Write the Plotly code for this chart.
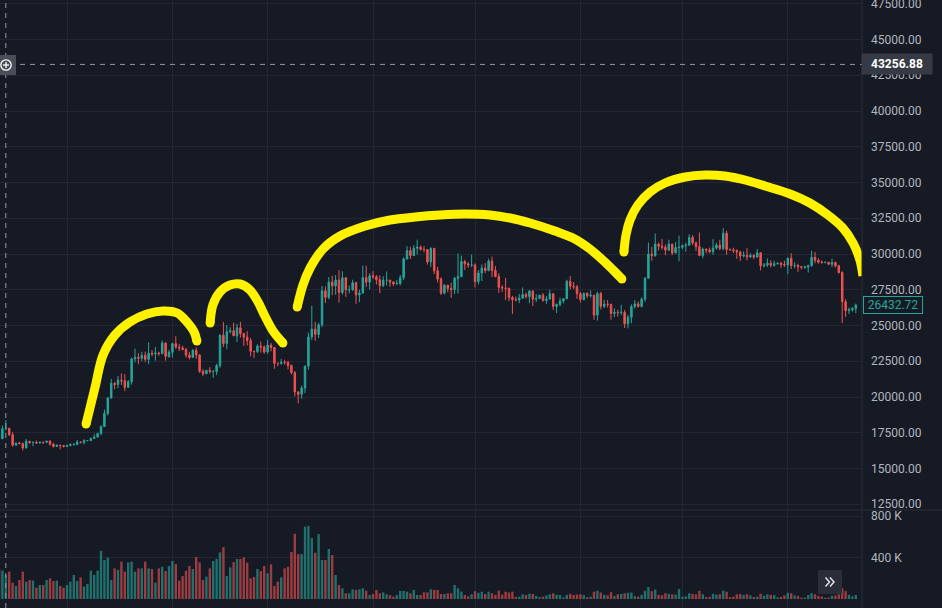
import pandas as pd
import plotly.graph_objects as go

# ---------------- data (daily candles, 2022-12-12 .. 2023-08-21) ----------------
start_date = "2022-12-12"
first_open = 17127

close = [
    # Dec 2022
    17085, 17780, 17812, 17364, 16634, 16779, 16739, 16439, 16907, 16820,
    16830, 16779, 16837, 16830, 16919, 16706, 16547, 16633, 16607, 16542,
    # Jan 2023
    16616, 16672, 16675, 16850, 16831, 16951, 16955, 17091, 17197, 17446,
    17935, 18846, 19930, 20954, 20872, 21185, 21133, 20677, 21072, 22667,
    22783, 22707, 22917, 22633, 23061, 23010, 23075, 23031, 23775, 22841, 23126,
    # Feb
    23732, 23488, 23431, 23326, 22933, 22763, 23264, 22940, 21797, 21625,
    21862, 21784, 21786, 22197, 24325, 23741, 24566, 24630, 24280, 24838,
    24439, 24189, 23947, 23198, 23175, 23555, 23492, 23141,
    # Mar
    23629, 23465, 22354, 22346, 22430, 22410, 22197, 21705, 20363, 20187,
    20633, 22163, 24197, 24746, 24375, 25055, 27423, 26965, 28039, 27768,
    28176, 27307, 28334, 27493, 27494, 27994, 27140, 27269, 28348, 28033, 28478,
    # Apr
    28411, 28199, 27790, 28169, 28173, 28036, 27906, 27948, 28333, 29653,
    30235, 29892, 30399, 30485, 30318, 30315, 29445, 30397, 28823, 28245,
    27263, 27817, 27591, 27514, 28300, 28415, 29472, 29311, 29231, 29233,
    # May
    28068, 28669, 29026, 28838, 29505, 28848, 28430, 27668, 27628, 27598,
    26963, 26805, 26785, 26918, 27162, 27030, 27405, 26833, 26890, 27118,
    26753, 26851, 27225, 26334, 26476, 26720, 26868, 28085, 27745, 27702, 27219,
    # Jun
    26819, 27249, 27069, 27116, 25729, 27230, 26339, 26498, 26477, 25841,
    25925, 25902, 25922, 25125, 25576, 26327, 26511, 26336, 26841, 28308,
    29993, 29884, 30689, 30547, 30470, 30271, 30696, 30078, 30446, 30472,
    # Jul
    30585, 30617, 31156, 30767, 30504, 29895, 30344, 30284, 30160, 30411,
    30619, 30380, 31454, 30312, 30290, 30232, 30139, 29859, 29910, 29800,
    29900, 29793, 30083, 29177, 29227, 29354, 29211, 29314, 29353, 29279, 29233,
    # Aug
    29705, 29186, 29194, 29113, 29072, 29090, 29188, 29766, 29561, 29430,
    29397, 29416, 29283, 29408, 29170, 28701, 26664, 26049, 26096, 26189, 26432.72,
]

high = [
    17242, 18000, 18387, 17846, 17531, 16800, 16864, 16816, 17061, 16925,
    16868, 16959, 16869, 16860, 16939, 16972, 16785, 16664, 16644, 16649,
    16631, 16760, 16773, 16990, 16879, 17042, 16971, 17176, 17398, 17490,
    18000, 19118, 19993, 21258, 21050, 21474, 21650, 21600, 21188, 22755,
    23371, 23078, 23165, 23180, 23816, 23282, 23500, 23165, 23950, 23817, 23305,
    23812, 24255, 23715, 23585, 23433, 23158, 23350, 23452, 22990, 21940,
    21906, 22090, 21885, 22326, 24380, 25250, 25021, 24877, 25190, 25121,
    25250, 24476, 24600, 24132, 23219, 23689, 23880, 23600,
    24000, 23775, 23476, 22410, 22667, 22603, 22527, 22268, 21815, 20364,
    20792, 22185, 24500, 26386, 25250, 25196, 27757, 27725, 28390, 28474,
    28528, 28868, 28800, 28400, 27800, 28200, 28050, 27500, 29185, 29168, 28650,
    28803, 28530, 28500, 28445, 28775, 28190, 28100, 28176, 28532, 29770,
    30550, 30500, 30620, 31000, 30600, 30550, 30320, 30470, 30420, 29100,
    28374, 27880, 27820, 28000, 28400, 30036, 29890, 29599, 29450, 29960,
    29337, 28880, 29266, 29366, 29677, 29820, 29150, 28650, 27820, 28319,
    27647, 27070, 27033, 27200, 27662, 27296, 27485, 27465, 27183, 27150,
    27268, 27050, 27500, 27225, 26530, 26938, 26888, 28200, 28447, 28040, 27831,
    27350, 27300, 27317, 27455, 27130, 27360, 27355, 26800, 26779, 26530,
    26200, 26105, 26440, 26080, 25750, 26475, 26775, 26679, 26980, 28390,
    30800, 30500, 31430, 30800, 31050, 30660, 31000, 30700, 30840, 31280,
    30660, 30790, 31380, 31326, 30880, 31500, 30447, 30380, 30445, 31045,
    30800, 30993, 31800, 31630, 30390, 30440, 30330, 30230, 30180, 30410,
    30050, 29990, 30350, 30100, 29370, 29690, 29560, 29530, 29413, 29450, 29530,
    29745, 30050, 29415, 29320, 29150, 29180, 29250, 30225, 30140, 29700,
    29550, 29475, 29450, 29675, 29460, 29250, 28785, 26835, 26260, 26290, 26530,
]

low = [
    16868, 17080, 17660, 17275, 16527, 16585, 16697, 16256, 16398, 16723,
    16560, 16742, 16760, 16715, 16788, 16592, 16465, 16508, 16333, 16470,
    16499, 16548, 16605, 16652, 16753, 16674, 16908, 16911, 17090, 17161,
    17320, 17908, 18714, 19889, 20552, 20611, 20838, 20407, 20654, 20862,
    22422, 22292, 22500, 22462, 22300, 22850, 22543, 22880, 23000, 22546, 22726,
    22760, 23364, 23204, 23256, 22745, 22628, 22746, 22665, 21688, 21451,
    21599, 21630, 21351, 21532, 22047, 23505, 23339, 24450, 24254, 23840,
    24150, 23574, 23608, 22841, 22722, 23077, 23106, 23020,
    23020, 23195, 21971, 22157, 22252, 22265, 21927, 21580, 20042, 19549,
    19885, 20271, 21918, 23976, 23930, 24123, 24890, 26578, 26830, 27125,
    27156, 26600, 27155, 27000, 27250, 27420, 26509, 26635, 27235, 27700, 27531,
    28250, 27866, 27260, 27675, 27800, 27700, 27767, 27865, 27800, 28170,
    29610, 29650, 29860, 29966, 30240, 30120, 29262, 29100, 28590, 28010,
    27125, 27160, 27327, 26940, 27206, 27235, 28380, 28876, 29031, 29080,
    27660, 27873, 28111, 28671, 28800, 28385, 28368, 27279, 27353, 26777,
    26695, 25810, 26687, 26566, 26850, 26880, 26560, 26360, 26633, 26850,
    26667, 26519, 26818, 26090, 25872, 26340, 26555, 26864, 27523, 27555, 26860,
    26605, 26740, 26920, 26952, 25388, 25350, 26125, 26215, 26255, 25400,
    25582, 25620, 25730, 24823, 24800, 25160, 26185, 26255, 26260, 26660,
    28260, 29525, 29810, 30251, 30300, 29920, 30220, 29920, 30041, 29500,
    30320, 30160, 30560, 30623, 30205, 29850, 29700, 30050, 30050, 29950,
    30300, 30255, 30250, 29940, 30250, 30070, 29660, 29520, 29760, 29560,
    29720, 29645, 29740, 28860, 29060, 29090, 29070, 29100, 29263, 29030, 29100,
    28580, 28950, 29000, 28750, 28920, 28960, 28700, 29105, 29350, 29330,
    29340, 29360, 29250, 29080, 29060, 28630, 25166, 25600, 25800, 25970, 25860,
]

# volume in thousands
volume_k = [
    289, 273, 231, 263, 157, 125, 183, 263, 167, 183, 177, 109, 135, 135, 183, 199,
    173, 177, 125, 109, 135, 167, 231, 173, 209, 119, 144, 273, 231, 273, 465, 376,
    398, 183, 295, 279, 360, 263, 353, 360, 263, 295, 295, 360, 295, 289, 157, 295,
    311, 270, 318, 366, 337, 177, 221, 273, 318, 289, 404, 353, 183, 215, 295, 366,
    385, 449, 501, 221, 305, 356, 385, 385, 401, 350, 199, 212, 289, 270, 318, 247,
    334, 125, 167, 209, 295, 311, 453, 629, 433, 433, 697, 703, 587, 446, 626, 376,
    376, 482, 424, 231, 135, 103, 55, 55, 93, 87, 93, 103, 80, 39, 48, 87,
    55, 64, 45, 39, 22, 39, 77, 77, 71, 55, 87, 39, 39, 64, 64, 93,
    87, 87, 48, 48, 55, 55, 135, 103, 71, 39,
    25, 45, 75, 60, 70, 48, 70, 55, 40, 80, 42, 70, 62, 70, 20, 22,
    45, 38, 50, 48, 30, 18, 22, 35, 45, 55, 40, 38, 15, 40, 50, 38,
    42, 45, 38, 18, 22, 70, 80, 62, 40, 35, 65, 28, 45, 48, 55, 60,
    62, 28, 22, 40, 80, 115, 75, 92, 40, 35, 55, 50, 45, 42, 95, 22,
    25, 55, 48, 45, 78, 45, 18, 20, 50, 42, 45, 80, 70, 18, 22, 45,
    48, 38, 45, 35, 18, 22, 50, 32, 45, 40, 38, 15, 20, 35, 60, 55,
    35, 30, 12, 14, 38, 55, 45, 30, 25, 12, 15, 32, 35, 45, 105, 75,
    40, 25, 38,
]

price_ticks = [12500, 15000, 17500, 20000, 22500, 25000, 27500, 30000,
               32500, 35000, 37500, 40000, 42500, 45000, 47500]
volume_ticks_k = [400, 800]
month_starts = ["2023-01-01", "2023-02-01", "2023-03-01", "2023-04-01",
                "2023-05-01", "2023-06-01", "2023-07-01", "2023-08-01"]

crosshair_price = 43256.88
crosshair_day = "2022-12-14"
last_price = 26432.72

# hand drawn yellow arcs: (day offset from start_date, price)
arc1_days = [25.6, 28.2, 30.6, 34.1, 38.5, 43.5, 48.2, 52.4, 55.3, 57.4, 58.2]
arc1_price = [18112, 20629, 22937, 24336, 25245, 25804, 26014, 25874, 25245, 24545, 23916]
arc2_days = [62.1, 62.9, 65.0, 67.9, 70.9, 73.8, 76.2, 78.2, 80.6, 83.5]
arc2_price = [25175, 26434, 27343, 27832, 27902, 27483, 26643, 25664, 24615, 23776]
arc3_days = [87.7, 89.4, 91.5, 95.3, 100.3, 107.7, 115.0, 122.4, 129.7, 137.1,
             144.4, 150.3, 156.2, 163.5, 168.8, 173.8, 178.2, 181.2, 183.2]
arc3_price = [26294, 27832, 29021, 30350, 31259, 31958, 32378, 32587, 32727, 32797,
              32727, 32517, 32168, 31608, 31119, 30350, 29441, 28741, 28252]
arc4_days = [183.8, 184.4, 185.6, 187.9, 191.5, 195.9, 201.8, 207.7, 213.5, 219.4,
             225.3, 232.7, 238.5, 243.8, 248.2, 251.2, 253.2, 254.1]
arc4_price = [30140, 31329, 32378, 33427, 34336, 34965, 35385, 35524, 35455, 35175,
              34755, 34196, 33566, 32727, 31818, 30769, 29580, 28462]

# ---------------- build ----------------
assert len(close) == len(high) == len(low) == len(volume_k), (len(close), len(high), len(low), len(volume_k))

start = pd.Timestamp(start_date)
dates = pd.date_range(start, periods=len(close), freq="D")
opens = [first_open] + close[:-1]

UP = "#26a69a"
DOWN = "#ef5350"
BG = "#161a25"
GRID = "#232733"
TXT = "#b2b5be"
W, H = 942, 608
PLOT_R = 862


def px(x):
    return x / W


def py(y):
    return 1 - y / H


vol_colors = ["rgba(38,166,154,0.62)" if c >= o else "rgba(239,83,80,0.62)"
              for o, c in zip(opens, close)]

fig = go.Figure()
fig.add_trace(go.Candlestick(
    x=dates, open=opens, high=high, low=low, close=close,
    increasing=dict(line=dict(color=UP, width=1), fillcolor=UP),
    decreasing=dict(line=dict(color=DOWN, width=1), fillcolor=DOWN),
    whiskerwidth=0, xaxis="x", yaxis="y", showlegend=False, hoverinfo="skip",
))
fig.add_trace(go.Bar(
    x=dates, y=volume_k, marker=dict(color=vol_colors, line=dict(width=0)),
    xaxis="x2", yaxis="y2", showlegend=False, hoverinfo="skip",
))

for d, p in [(arc1_days, arc1_price), (arc2_days, arc2_price),
             (arc3_days, arc3_price), (arc4_days, arc4_price)]:
    xs = [start + pd.Timedelta(days=v) for v in d]
    fig.add_trace(go.Scatter(
        x=xs, y=p, mode="lines", line=dict(color="#fff200", width=9, shape="spline", smoothing=1.0),
        xaxis="x", yaxis="y", showlegend=False, hoverinfo="skip",
    ))
    fig.add_trace(go.Scatter(
        x=[xs[0], xs[-1]], y=[p[0], p[-1]], mode="markers",
        marker=dict(color="#fff200", size=9, line=dict(width=0)),
        xaxis="x", yaxis="y", showlegend=False, hoverinfo="skip", cliponaxis=False,
    ))

x_range = [start + pd.Timedelta(days=0.29), start + pd.Timedelta(days=253.82)]
split = (H - 510) / H

xaxis_common = dict(
    type="date", range=x_range, domain=[0, PLOT_R / W],
    tickvals=month_starts, showticklabels=False, ticks="",
    showgrid=True, gridcolor=GRID, gridwidth=1, zeroline=False, showline=False,
    rangeslider=dict(visible=False), fixedrange=True, automargin=False,
)

fig.update_layout(
    width=W, height=H, margin=dict(l=0, r=0, t=0, b=0, pad=0, autoexpand=False),
    paper_bgcolor=BG, plot_bgcolor=BG,
    font=dict(family="Roboto, Noto Sans, sans-serif", color=TXT, size=12),
    boxgap=0.38, bargap=0.3,
    xaxis=dict(**xaxis_common, anchor="y"),
    xaxis2=dict(**xaxis_common, anchor="y2", matches="x"),
    yaxis=dict(
        domain=[split, 1], range=[12098, 47762], side="right", anchor="x",
        tickvals=price_ticks, ticktext=[f"{v:.2f}" for v in price_ticks],
        showgrid=True, gridcolor=GRID, zeroline=False, showline=False, automargin=False,
        ticks="", ticklabelstandoff=8, ticklabeloverflow="allow",
        tickfont=dict(size=12, color=TXT),
    ),
    yaxis2=dict(
        domain=[0, split], range=[-87, 858], side="right", anchor="x2",
        tickvals=volume_ticks_k, ticktext=[f"{v} K" for v in volume_ticks_k],
        showgrid=True, gridcolor=GRID, zeroline=False, showline=False, automargin=False,
        ticks="", ticklabelstandoff=8, ticklabeloverflow="allow",
        tickfont=dict(size=12, color=TXT),
    ),
)

shapes = [
    # pane separator
    dict(type="line", xref="paper", yref="paper", x0=0, x1=1, y0=py(510), y1=py(510),
         line=dict(color="#2a2e39", width=1)),
    # price-scale border
    dict(type="line", xref="paper", yref="paper", x0=px(PLOT_R), x1=px(PLOT_R), y0=0, y1=1,
         line=dict(color="#2a2e39", width=1)),
    # crosshair
    dict(type="line", xref="paper", yref="y", x0=0, x1=px(PLOT_R), y0=crosshair_price, y1=crosshair_price,
         line=dict(color="#9598a1", width=1, dash="5px,5px")),
    dict(type="line", xref="x", yref="paper", x0=crosshair_day, x1=crosshair_day, y0=0, y1=1,
         line=dict(color="#9598a1", width=1, dash="5px,5px")),
    # plus button
    dict(type="rect", xref="paper", yref="paper", x0=0, x1=px(16), y0=py(75), y1=py(55),
         fillcolor="#4a4e59", line=dict(width=0)),
    dict(type="circle", xref="paper", yref="paper", x0=px(0.8), x1=px(11.2), y0=py(70.2), y1=py(59.8),
         line=dict(color="#ffffff", width=1.3)),
    dict(type="line", xref="paper", yref="paper", x0=px(6), x1=px(6), y0=py(62), y1=py(68),
         line=dict(color="#ffffff", width=1.3)),
    dict(type="line", xref="paper", yref="paper", x0=px(3), x1=px(9), y0=py(65), y1=py(65),
         line=dict(color="#ffffff", width=1.3)),
    # scroll-to-end button
    dict(type="rect", xref="paper", yref="paper", x0=px(818), x1=px(842), y0=py(594), y1=py(570),
         fillcolor="#2a2e39", line=dict(width=0)),
    dict(type="path", xref="paper", yref="paper",
         path=f"M {px(825.5)},{py(577.5)} L {px(829.5)},{py(582)} L {px(825.5)},{py(586.5)}",
         line=dict(color="#e0e3eb", width=1.5)),
    dict(type="path", xref="paper", yref="paper",
         path=f"M {px(830)},{py(577.5)} L {px(834)},{py(582)} L {px(830)},{py(586.5)}",
         line=dict(color="#e0e3eb", width=1.5)),
]
fig.update_layout(shapes=shapes)

fig.add_annotation(
    xref="paper", yref="y", x=px(897), y=crosshair_price, text="<b>43256.88</b>",
    showarrow=False, bgcolor="#363a45", width=70, height=20, borderpad=0,
    font=dict(color="#ffffff", size=12, family="Roboto, Noto Sans, sans-serif"),
    xanchor="center", yanchor="middle",
)
fig.add_annotation(
    xref="paper", yref="y", x=px(893), y=last_price, text=f"{last_price:.2f}",
    showarrow=False, bgcolor=BG, bordercolor=UP, borderwidth=1, width=56, height=14, borderpad=1,
    font=dict(color=UP, size=12, family="Roboto, Noto Sans, sans-serif"),
    xanchor="center", yanchor="middle",
)

fig.write_html(
    "out.html",
    config={"displayModeBar": False, "staticPlot": True},
    post_script="document.body.style.margin='0';document.body.style.overflow='hidden';",
)
